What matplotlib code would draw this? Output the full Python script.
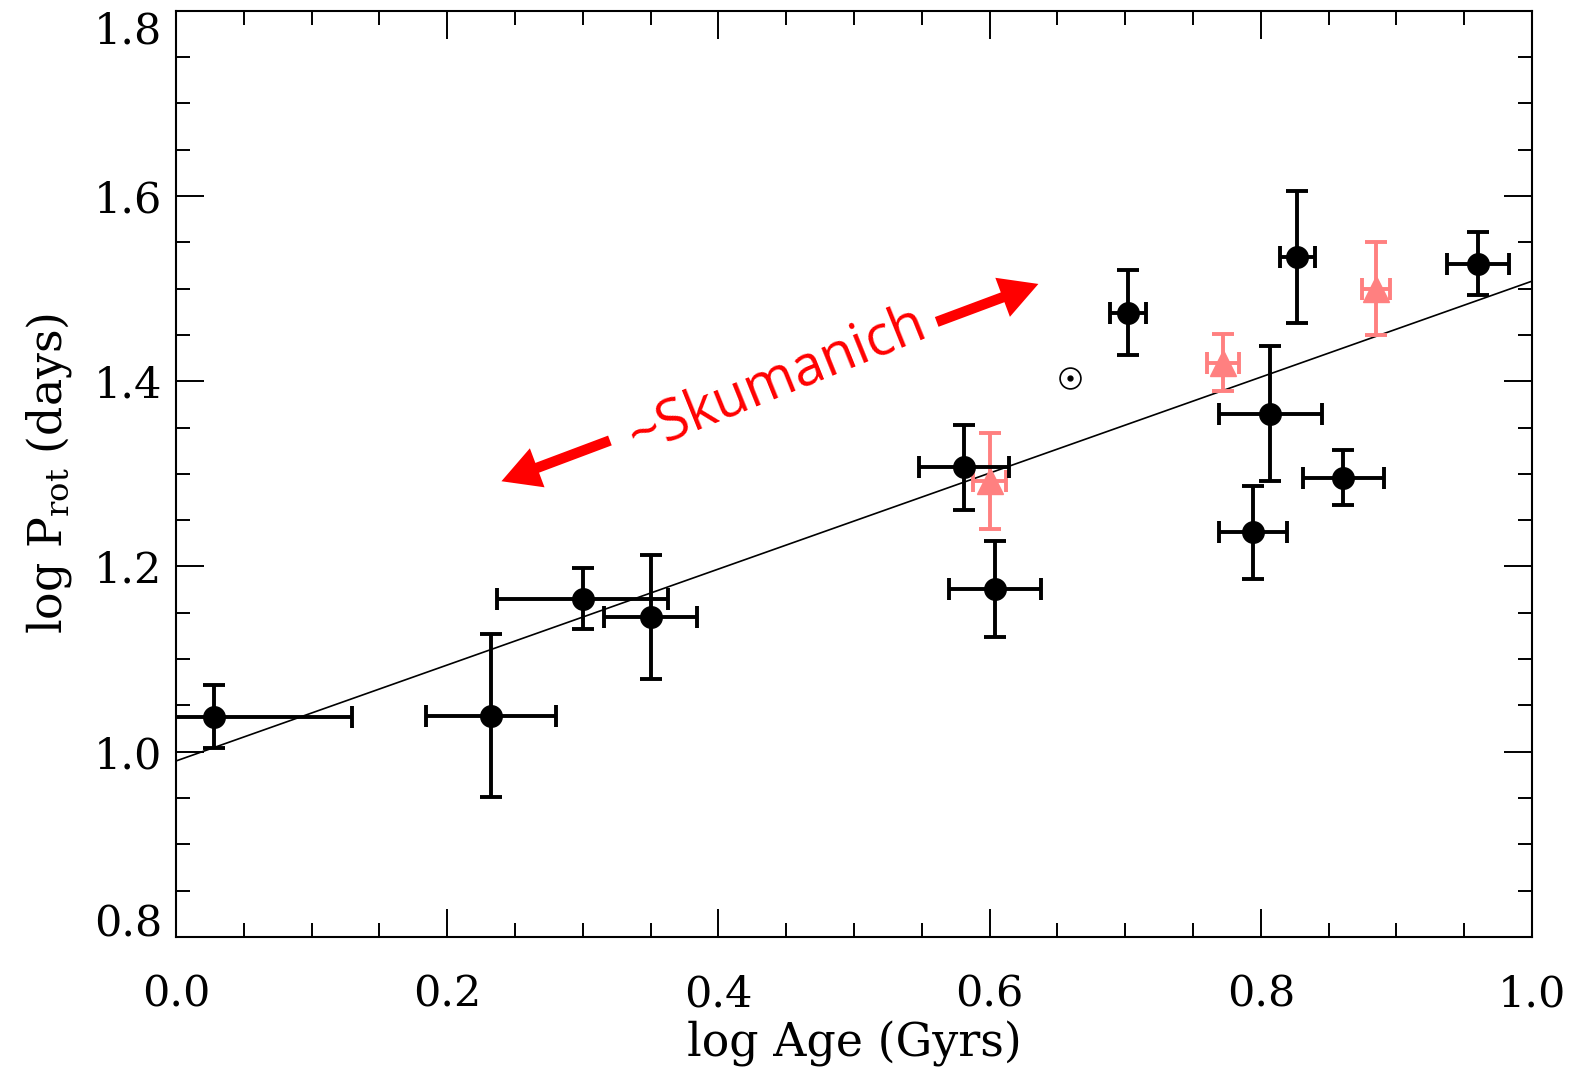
import matplotlib
matplotlib.use('Agg')
import matplotlib.pyplot as plt
import numpy as np
from matplotlib.ticker import MultipleLocator

# black points: log age, log Prot, errors
age = [0.028, 0.232, 0.300, 0.350, 0.581, 0.604, 0.702, 0.794, 0.807, 0.827, 0.861, 0.960]
prot = [1.038, 1.039, 1.165, 1.145, 1.307, 1.176, 1.474, 1.237, 1.365, 1.534, 1.296, 1.527]
age_err = [0.102, 0.048, 0.063, 0.034, 0.033, 0.034, 0.013, 0.025, 0.038, 0.013, 0.030, 0.023]
prot_err = [0.034, 0.088, 0.033, 0.067, 0.046, 0.052, 0.046, 0.050, 0.073, 0.071, 0.030, 0.034]

# red triangles
age_r = [0.600, 0.772, 0.885]
prot_r = [1.292, 1.420, 1.500]
age_r_err = [0.012, 0.012, 0.010]
prot_r_err = [0.052, 0.031, 0.050]

# sun
sun_age = 0.659
sun_prot = 1.403

# fit line
fit_a = 0.990
fit_b = 0.518

# annotation arrows (data coords)
arrow_left = [(0.320, 1.336), (0.240, 1.292)]
arrow_right = [(0.561, 1.464), (0.636, 1.505)]
label_pos = (0.443, 1.400)

xticks = [0.0, 0.2, 0.4, 0.6, 0.8, 1.0]
yticks = [0.8, 1.0, 1.2, 1.4, 1.6, 1.8]

plt.rcParams['font.family'] = 'DejaVu Serif'
plt.rcParams['mathtext.fontset'] = 'dejavuserif'

fig = plt.figure(figsize=(15.8, 10.69), dpi=100)
ax = fig.add_axes([0.1114, 0.1235, 0.8582, 0.8665])

xx = np.array([0.0, 1.0])
ax.plot(xx, fit_a + fit_b*xx, color='black', lw=1.2, zorder=2)

ax.errorbar(age_r, prot_r, xerr=age_r_err, yerr=prot_r_err, fmt='^', color='#ff8080',
            ms=19, elinewidth=2.8, capsize=8, capthick=2.8, zorder=3)
ax.errorbar(age, prot, xerr=age_err, yerr=prot_err, fmt='o', color='black',
            ms=15.5, elinewidth=2.8, capsize=8, capthick=2.8, zorder=4)

ax.plot(sun_age, sun_prot, 'o', mfc='none', mec='black', ms=15, mew=1.2)
ax.plot(sun_age, sun_prot, 'o', color='black', ms=3.5)

for (x0, y0), (x1, y1) in [arrow_left, arrow_right]:
    ax.annotate('', xy=(x1, y1), xytext=(x0, y0),
                arrowprops=dict(arrowstyle='simple,head_length=0.55,head_width=0.6,tail_width=0.15',
                                color='red', lw=0, mutation_scale=50, shrinkA=0, shrinkB=0))
ax.text(label_pos[0], label_pos[1], '~Skumanich', color='red', fontsize=40,
        family='Open Sans', rotation=22, ha='center', va='center', rotation_mode='anchor')

ax.set_xlim(0, 1.0)
ax.set_ylim(0.8, 1.8)
ax.set_xticks(xticks, ['%.1f' % v for v in xticks])
ax.set_yticks(yticks, ['%.1f' % v for v in yticks])
ax.xaxis.set_minor_locator(MultipleLocator(0.05))
ax.yaxis.set_minor_locator(MultipleLocator(0.05))
ax.tick_params(which='both', direction='in', top=True, right=True, width=1.4, labelsize=31)
ax.tick_params(which='major', length=20)
ax.tick_params(which='minor', length=10)
ax.tick_params(axis='x', pad=26)
ax.tick_params(axis='y', pad=10)
for s in ax.spines.values():
    s.set_linewidth(1.5)

# end labels on the y axis sit inside the frame, as in the original
ylabs = ax.get_yticklabels()
ylabs[0].set_va('baseline')
ylabs[-1].set_va('top')

ax.set_xlabel('log Age (Gyrs)', fontsize=33, labelpad=4)
ax.set_ylabel(r'log P$_{\rm rot}$ (days)', fontsize=33, labelpad=14)

fig.savefig('out.png', dpi=100)
